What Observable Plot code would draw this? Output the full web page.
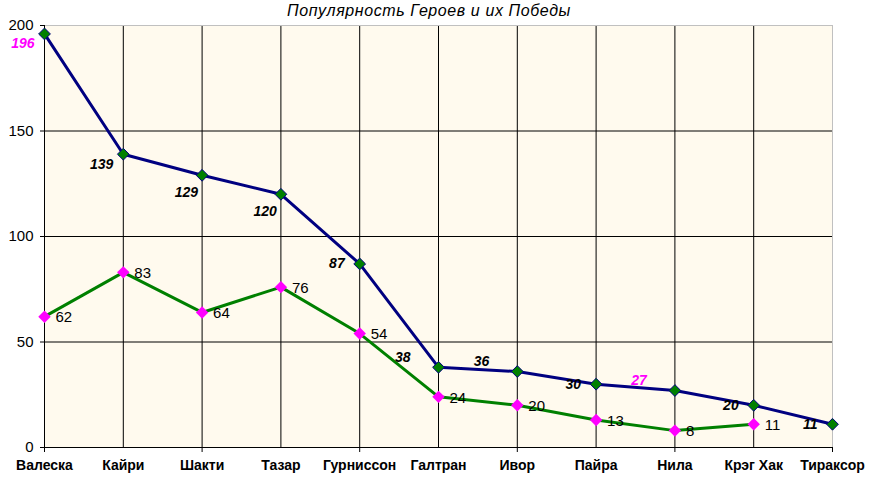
<!DOCTYPE html>
<html>
<head>
<meta charset="utf-8">
<script src="https://cdn.jsdelivr.net/npm/d3@7"></script>
<script src="https://cdn.jsdelivr.net/npm/@observablehq/plot@0.6"></script>
<style>
  body { margin: 0; background: #fff; font-family: Arial, "Liberation Sans", sans-serif; }
  #title { width: 858px; height: 15px; padding-top: 3px; line-height: 15px; text-align: center;
           font-style: italic; font-size: 16px; letter-spacing: 0.6px; color: #000; }
</style>
</head>
<body>
<div id="title">Популярность Героев и их Победы</div>
<div id="chart"></div>
<script>
const heroes = ["Валеска","Кайри","Шакти","Тазар","Гурниссон","Галтран","Ивор","Пайра","Нила","Крэг Хак","Тираксор"];
const popularity = [196,139,129,120,87,38,36,30,27,20,11];
const wins = [62,83,64,76,54,24,20,13,8,11];
const yTicks = [0,50,100,150,200];

const popData = heroes.map((name, i) => ({name, v: popularity[i], i}));
const winData = wins.map((v, i) => ({name: heroes[i], v, i}));

const navy = "#000080", green = "#008000", magenta = "#ff00ff", gray = "#c0c0c0";
const highlighted = new Set([0, 8]);

function popLabels(idx, dx, dy) {
  return Plot.text(popData.filter(d => idx.includes(d.i)), {
    x: "name", y: "v", text: d => String(d.v),
    fill: d => highlighted.has(d.i) ? magenta : "black",
    textAnchor: "end", dx, dy,
    fontSize: 14, fontWeight: "bold", fontStyle: "italic", letterSpacing: 0.5
  });
}

const chart = Plot.plot({
  width: 870,
  height: 463,
  marginTop: 7,
  marginLeft: 44,
  marginRight: 38,
  marginBottom: 34,
  style: {fontFamily: "Arial, 'Liberation Sans', sans-serif", fontSize: "14px", background: "#fff", overflow: "visible"},
  x: {type: "point", domain: heroes, padding: 0, round: false, label: null},
  y: {domain: [0, 200], label: null},
  marks: [
    Plot.frame({fill: "#fffaee", stroke: null}),
    Plot.gridY([50, 100, 150], {stroke: "black", strokeOpacity: 1}),
    Plot.gridX(heroes.slice(1, -1), {stroke: "black", strokeOpacity: 1}),
    Plot.ruleY([200], {stroke: gray}),
    Plot.ruleX([heroes[heroes.length - 1]], {stroke: gray}),
    Plot.ruleX([heroes[0]], {stroke: "black"}),
    Plot.ruleY([0], {stroke: "black"}),
    Plot.axisY(yTicks, {tickSize: 4, tickPadding: 7, fontSize: 15, letterSpacing: 1.5, stroke: "black", label: null}),
    Plot.axisX(heroes.filter((d, i) => i % 2 === 0), {tickSize: 5, tickFormat: () => "", stroke: "black", label: null}),
    Plot.axisX(heroes, {tickSize: 0, tickPadding: 13, fontWeight: "bold", fontSize: 14, letterSpacing: 0.3, label: null}),
    Plot.line(winData, {x: "name", y: "v", stroke: green, strokeWidth: 3}),
    Plot.line(popData, {x: "name", y: "v", stroke: navy, strokeWidth: 3}),
    Plot.dot(winData, {x: "name", y: "v", symbol: "diamond2", r: 5.6, fill: magenta, stroke: null}),
    Plot.dot(popData, {x: "name", y: "v", symbol: "diamond2", r: 5.3, fill: green, stroke: navy, strokeWidth: 1}),
    Plot.text(winData, {x: "name", y: "v", text: d => String(d.v), textAnchor: "start", dx: 11, dy: 1, fontSize: 15, letterSpacing: 1, fill: "black"}),
    popLabels([0, 1], -10, 10),
    popLabels([2, 3], -4, 17),
    popLabels([4, 7, 9, 10], -15, 0),
    popLabels([5, 6, 8], -28, -10)
  ]
});
document.getElementById("chart").appendChild(chart);
</script>
</body>
</html>
